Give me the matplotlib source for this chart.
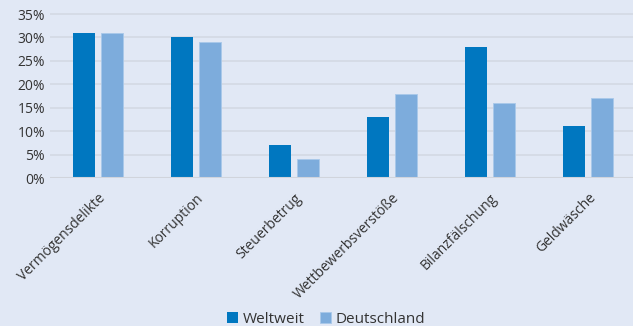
import matplotlib
matplotlib.use("Agg")
import matplotlib.pyplot as plt
import numpy as np
from matplotlib.ticker import FuncFormatter

categories = ["Vermögensdelikte", "Korruption", "Steuerbetrug",
              "Wettbewerbsverstöße", "Bilanzfälschung", "Geldwäsche"]
weltweit = [31, 30, 7, 13, 28, 11]
deutschland = [31, 29, 4, 18, 16, 17]
series_names = ["Weltweit", "Deutschland"]

plt.rcParams['font.family'] = ['Open Sans', 'DejaVu Sans']
bg = "#e1e8f5"
dark = "#0077c0"
light = "#7dacdc"

fig = plt.figure(figsize=(6.33, 3.26), dpi=100, facecolor=bg)
ax = fig.add_axes([50/633, 1-178/326, 583/633, 164/326*40/35], facecolor=bg)

x = np.arange(len(categories))
w = 0.225
ax.bar(x - 0.14, weltweit, w, color=dark, label=series_names[0], zorder=3)
ax.bar(x + 0.14, deutschland, w, color=light, edgecolor="#a9c8ea", linewidth=0.6,
       label=series_names[1], zorder=3)

ax.set_xlim(-0.49, 5.46)
ax.set_ylim(0, 40)
ax.set_yticks(range(0, 36, 5))
ax.yaxis.set_major_formatter(FuncFormatter(lambda v, p: f"{int(v)}%"))
ax.grid(axis='y', color="#d3d9e3", linewidth=1.2, zorder=0)
for s in ax.spines.values():
    s.set_visible(False)
ax.axhline(0, color="#d0d4dc", linewidth=1.5, zorder=4)
ax.tick_params(axis='both', length=0, labelsize=10, colors="#333333")
ax.set_xticks(x)
ax.set_xticklabels(categories, rotation=45, ha='right', rotation_mode='anchor')
ax.tick_params(axis='x', pad=9)

leg = fig.legend(loc='lower center', bbox_to_anchor=(0.515, -0.045), ncol=2, frameon=False,
                 fontsize=11, handlelength=0.7, handleheight=0.7, handletextpad=0.3,
                 columnspacing=1.0)
for t in leg.get_texts():
    t.set_color("#333333")

fig.savefig("out.png", dpi=100, facecolor=bg)
